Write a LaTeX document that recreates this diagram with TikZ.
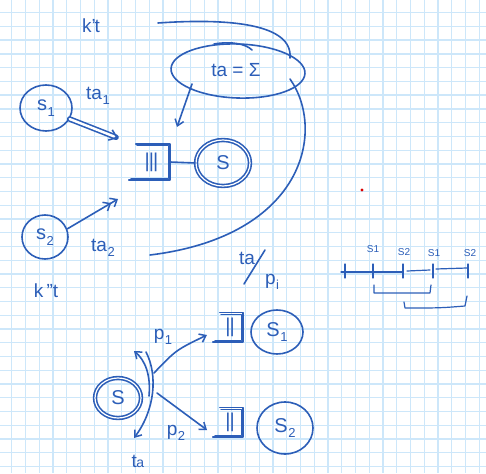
\documentclass[tikz,border=0pt]{standalone}
\usepackage{fontspec}
\setsansfont{Liberation Sans}
\usetikzlibrary{arrows.meta,calc,shapes.geometric}
\definecolor{ink}{RGB}{44,94,184}
\definecolor{gridblue}{RGB}{205,231,250}
% lowered index in the running sans font
\newcommand{\lowidx}[1]{\kern0.5pt\raisebox{-0.28em}{\fontsize{13}{13}\selectfont #1}}
\tikzset{
  pen/.style={draw=ink, line width=1.6pt, line cap=round, line join=round},
  txt/.style={text=ink, font=\sffamily\fontsize{19}{19}\selectfont, inner sep=0pt},
  smalltxt/.style={text=ink, font=\sffamily\fontsize{10}{10}\selectfont, inner sep=0pt},
  state/.style={ellipse, pen, inner sep=0pt, text=ink, font=\sffamily\fontsize{20}{20}\selectfont},
  twice/.style={double=white, double distance=1.2pt},
  queue/.style={rectangle, inner sep=0pt, text=ink, font=\sffamily\fontsize{20}{20}\selectfont},
  barb/.style={-{Straight Barb[length=6pt,width=9pt,line width=1.5pt]}},
  barbbarb/.style={-{Straight Barb[length=6pt,width=10pt,line width=1.5pt]Straight Barb[length=6pt,width=10pt,line width=1.5pt]}},
  fatarrow/.style={double=white, double distance=2.4pt, -{Straight Barb[length=7pt,width=11pt]}},
}
% open-left queue box drawn around a node
\newcommand{\queuebox}[1]{%
  \draw[pen] ($(#1.north west)+(3,0)$) -- (#1.north east) -- (#1.south east) -- ($(#1.south west)+(-4,0)$);
  \draw[pen, line width=0.8pt] ($(#1.north west)+(4,1.6)$) -- ($(#1.north east)+(-1.6,1.6)$) -- ($(#1.south east)+(-1.6,-1.6)$) -- ($(#1.south west)+(-2,-1.6)$);
}
\begin{document}
\begin{tikzpicture}[x=1pt,y=-1pt]
\useasboundingbox (0,0) rectangle (486,473);
\fill[white] (0,0) rectangle (486,473);

% graph paper
\foreach \i in {0,...,34} {
  \draw[gridblue, line width=1.4pt] (11.7+13.75*\i,0) -- ++(0,473);
}
\foreach \j in {0,...,33} {
  \draw[gridblue, line width=1.4pt] (0,12.7+13.75*\j) -- ++(486,0);
}

% ---------- upper part: two sources feeding one queue ----------
\node[txt] (kt) at (91,26) {k'\kern-1pt t};
\node[txt] (kkt) at (46,291) {k\,''t};

\node[state, minimum width=52pt, minimum height=46pt] (s1) at (46,108) {s\lowidx{1}};
\node[state, minimum width=46pt, minimum height=44pt] (s2) at (45,237) {s\lowidx{2}};
\node[txt] (ta1) at (98,96) {ta\lowidx{1}};
\node[txt] (ta2) at (103,248) {ta\lowidx{2}};

\node[queue, minimum width=37pt, minimum height=36pt] (q) at (151.5,162) {\textbar\kern-1pt\textbar\kern-1pt\textbar};
\queuebox{q}
\node[state, twice, minimum width=54pt, minimum height=46pt] (S) at (223,163) {S};
\draw[pen] (q.east) -- (S.west);

\coordinate (q1in) at (118,138);
\coordinate (q2in) at (118,199);
\draw[pen, fatarrow] (s1.-25) -- (q1in);
\draw[pen, barbbarb] (s2.20) -- (q2in);

% the sum of arrival times
\node[ellipse, pen, minimum width=134pt, minimum height=54pt, rotate=-2, inner sep=0pt] (sig) at (238,71) {};
\node[txt] (sigtxt) at (236,70) {ta = Σ};
\draw[pen] (214,44) .. controls (232,41) and (246,44) .. (252,50);
\coordinate (sigout) at (177,127);
\draw[pen, barb] (192,84) -- (sigout);

\coordinate (topa) at (158,23);
\coordinate (topb) at (290,58);
\draw[pen] (topa) .. controls (230,18) and (293,24) .. (topb);
\coordinate (arca) at (290,79);
\coordinate (arcb) at (150,255);
\draw[pen] (arca) .. controls (326,130) and (305,236) .. (arcb);

% ta / p_i
\node[txt] (tap) at (247,258) {ta};
\coordinate (slasha) at (244,284);
\coordinate (slashb) at (265,250);
\draw[pen] (slasha) -- (slashb);
\node[txt] (pi) at (272,282) {p\lowidx{i}};

% stray dot
\fill[red!85!black] (362,190) circle (1.6pt);

% ---------- timeline ----------
\draw[pen, line width=1.2pt] (341,272) -- (403,272);
\draw[pen, line width=1.2pt] (407,271) -- (430,270);
\draw[pen, line width=1.2pt] (436,269) -- (467,268);
\foreach \x in {345,373,403,433,468} {
  \draw[pen, line width=1.2pt] (\x,264) -- (\x,278);
}
\node[smalltxt] (t1) at (373,249) {S1};
\node[smalltxt] (t2) at (404,252) {S2};
\node[smalltxt] (t3) at (434,253) {S1};
\node[smalltxt] (t4) at (470,253) {S2};
\draw[pen, line width=1.2pt] (374,285) -- (374,293) -- (430,293) -- (431,285);
\draw[pen, line width=1.2pt] (404,302) -- (405,308) .. controls (440,308) .. (465,306) -- (467,296);

% ---------- lower part: one server splitting into two ----------
\node[state, twice, minimum width=46pt, minimum height=40pt] (Sb) at (118,398) {S};
\node[txt] (tab) at (138,461) {t\kern-0.5pt{\fontsize{14}{14}\selectfont a}};

\coordinate (cupl) at (134,351);
\coordinate (cdown) at (134,438);
\draw[pen, barb] (149,396) .. controls (151,375) and (145,360) .. (cupl);
\draw[pen, barb] (146,352) .. controls (158,375) and (155,410) .. (cdown);

\node[queue, minimum width=26pt, minimum height=29pt] (qa) at (230,327) {\textbar\kern-1pt\textbar};
\queuebox{qa}
\node[queue, minimum width=26pt, minimum height=29pt] (qb) at (230,422) {\textbar\kern-1pt\textbar};
\queuebox{qb}
\node[state, minimum width=52pt, minimum height=44pt] (sa) at (277,332) {S\lowidx{1}};
\node[state, minimum width=56pt, minimum height=52pt] (sb) at (285,428) {S\lowidx{2}};

\coordinate (pa) at (207,335);
\coordinate (pb) at (207,430);
\draw[pen, barb] (154,373) .. controls (176,350) .. (pa);
\draw[pen, barb] (157,393) .. controls (180,410) .. (pb);
\node[txt] (p1) at (163,337) {p\lowidx{1}};
\node[txt] (p2) at (176,433) {p\lowidx{2}};
\end{tikzpicture}
\end{document}
